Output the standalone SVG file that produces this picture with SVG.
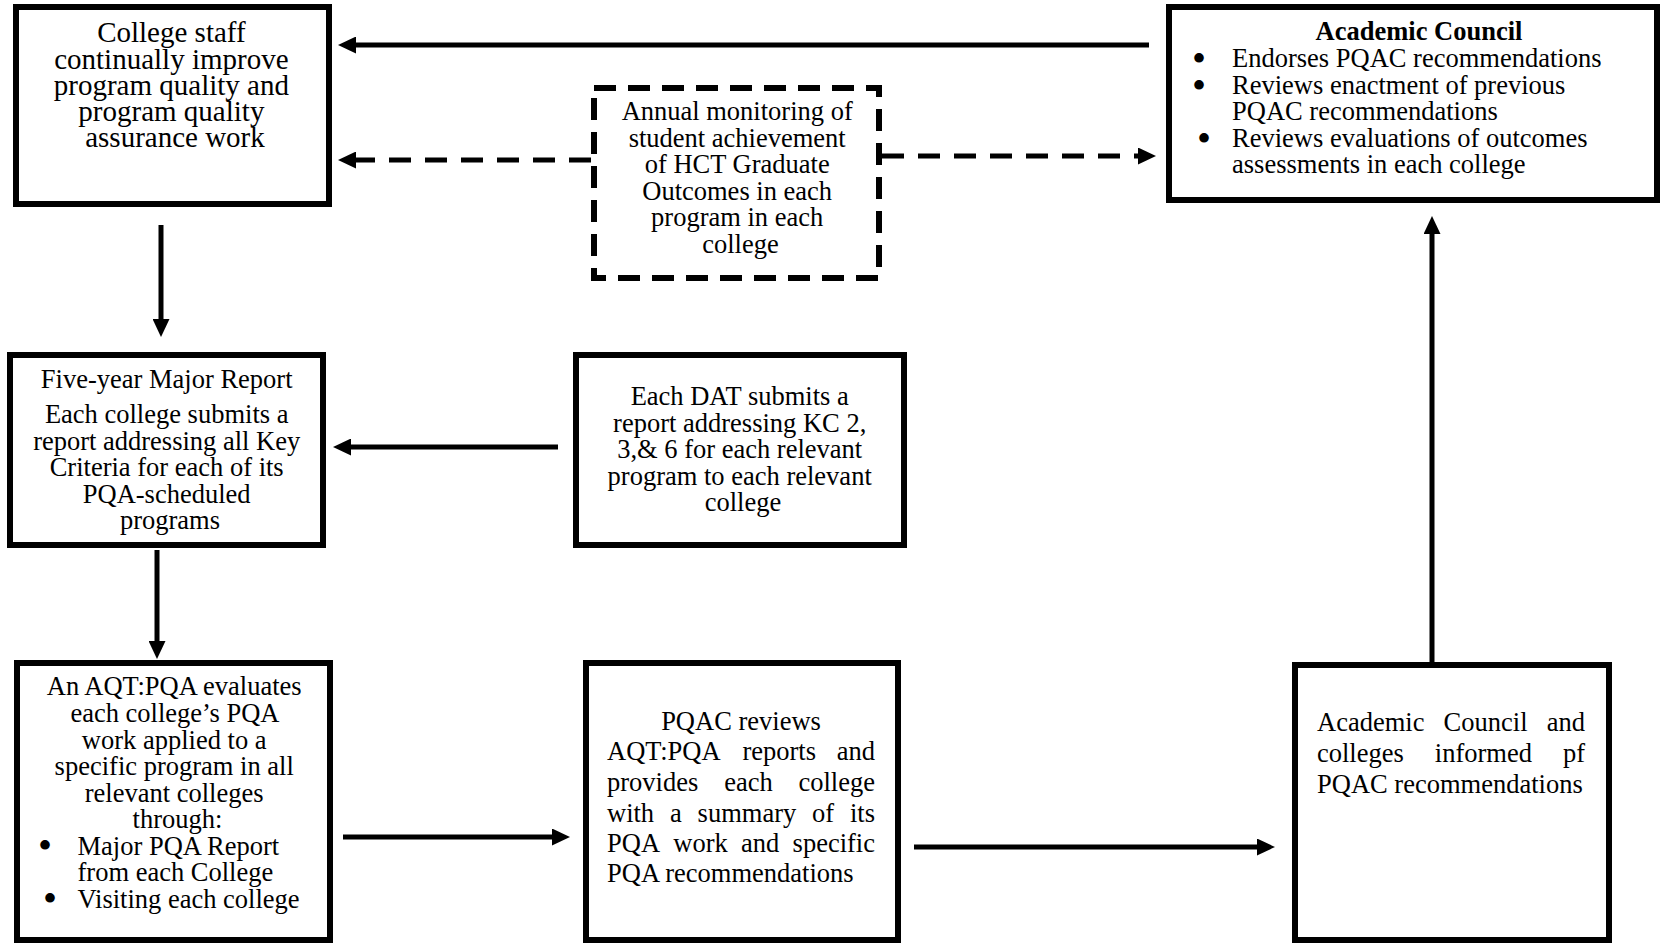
<svg xmlns="http://www.w3.org/2000/svg" width="1663" height="944" viewBox="0 0 1663 944">
  <style>
    .box { fill: #ffffff; stroke: #000000; stroke-width: 6; }
    .dbox { fill: #ffffff; stroke: #000000; stroke-width: 6; stroke-dasharray: 22 12; }
    .t { font-family: "Liberation Serif", "Times New Roman", serif; font-size: 26.5px; fill: #000000; }
    .big { font-size: 29px; }
    .c { text-anchor: middle; }
    .b { font-weight: bold; }
    .bul { font-size: 40px; }
    .line { fill: none; stroke: #000000; stroke-width: 5; marker-end: url(#head); }
    .dash { stroke-dasharray: 22 14; }
  </style>
  <defs>
    <marker id="head" markerUnits="userSpaceOnUse" markerWidth="19" markerHeight="17" refX="1" refY="8.5" orient="auto">
      <path d="M0,0 L18,8.5 L0,17 Z" fill="#000000"/>
    </marker>
  </defs>
  <rect width="1663" height="944" fill="#ffffff"/>

  <!-- connectors -->
  <g id="connectors">
    <line class="line" x1="1149" y1="45" x2="355" y2="45"/>
    <line class="line dash" x1="591" y1="160" x2="355" y2="160"/>
    <line class="line dash" x1="882" y1="156" x2="1139" y2="156"/>
    <line class="line" x1="161" y1="225" x2="161" y2="320"/>
    <line class="line" x1="558" y1="447" x2="350" y2="447"/>
    <line class="line" x1="157" y1="550" x2="157" y2="642"/>
    <line class="line" x1="343" y1="837" x2="553" y2="837"/>
    <line class="line" x1="914" y1="847" x2="1258" y2="847"/>
    <line class="line" x1="1432" y1="662" x2="1432" y2="233"/>
  </g>

  <!-- college staff -->
  <g id="college-staff">
    <rect class="box" x="16" y="7" width="313" height="197"/>
    <text class="t big c" x="175">
      <tspan x="175" y="42">College staff</tspan>
      <tspan x="175" y="68.5">continually improve</tspan>
      <tspan x="175" y="95">program quality and</tspan>
      <tspan x="175" y="121">program quality</tspan>
      <tspan x="175" y="147">assurance work</tspan>
    </text>
  </g>

  <!-- annual monitoring (dashed) -->
  <g id="annual-monitoring">
    <rect class="dbox" x="594" y="88" width="285" height="190"/>
    <text class="t c" x="740.5">
      <tspan x="740.5" y="120">Annual monitoring of</tspan>
      <tspan x="740.5" y="147">student achievement</tspan>
      <tspan x="740.5" y="173">of HCT Graduate</tspan>
      <tspan x="740.5" y="200">Outcomes in each</tspan>
      <tspan x="740.5" y="226">program in each</tspan>
      <tspan x="740.5" y="253">college</tspan>
    </text>
  </g>

  <!-- academic council -->
  <g id="academic-council">
    <rect class="box" x="1169" y="7" width="488" height="193"/>
    <text class="t b c" x="1419" y="40">Academic Council</text>
    <text class="t bul c">
      <tspan x="1204" y="72">•</tspan>
      <tspan x="1204" y="98.5">•</tspan>
      <tspan x="1204" y="151.5">•</tspan>
    </text>
    <text class="t">
      <tspan x="1232" y="67">Endorses PQAC recommendations</tspan>
      <tspan x="1232" y="93.5">Reviews enactment of previous</tspan>
      <tspan x="1232" y="120">PQAC recommendations</tspan>
      <tspan x="1232" y="146.5">Reviews evaluations of outcomes</tspan>
      <tspan x="1232" y="173">assessments in each college</tspan>
    </text>
  </g>

  <!-- five-year major report -->
  <g id="five-year-report">
    <rect class="box" x="10" y="355" width="313" height="190"/>
    <text class="t c" x="170">
      <tspan x="170" y="388">Five-year Major Report</tspan>
      <tspan x="170" y="423">Each college submits a</tspan>
      <tspan x="170" y="450">report addressing all Key</tspan>
      <tspan x="170" y="476">Criteria for each of its</tspan>
      <tspan x="170" y="503">PQA-scheduled</tspan>
      <tspan x="170" y="529">programs</tspan>
    </text>
  </g>

  <!-- DAT report -->
  <g id="dat-report">
    <rect class="box" x="576" y="355" width="328" height="190"/>
    <text class="t c" x="743">
      <tspan x="743" y="405">Each DAT submits a</tspan>
      <tspan x="743" y="432">report addressing KC 2,</tspan>
      <tspan x="743" y="458">3,&amp; 6 for each relevant</tspan>
      <tspan x="743" y="485">program to each relevant</tspan>
      <tspan x="743" y="511">college</tspan>
    </text>
  </g>

  <!-- AQT:PQA evaluation -->
  <g id="aqt-evaluation">
    <rect class="box" x="17" y="663" width="313" height="277"/>
    <text class="t c" x="177.5">
      <tspan x="177.5" y="695">An AQT:PQA evaluates</tspan>
      <tspan x="177.5" y="722">each college’s PQA</tspan>
      <tspan x="177.5" y="749">work applied to a</tspan>
      <tspan x="177.5" y="775">specific program in all</tspan>
      <tspan x="177.5" y="802">relevant colleges</tspan>
      <tspan x="177.5" y="828">through:</tspan>
    </text>
    <text class="t bul c">
      <tspan x="50" y="859">•</tspan>
      <tspan x="50" y="912">•</tspan>
    </text>
    <text class="t">
      <tspan x="77.5" y="855">Major PQA Report</tspan>
      <tspan x="77.5" y="881">from each College</tspan>
      <tspan x="77.5" y="908">Visiting each college</tspan>
    </text>
  </g>

  <!-- PQAC review -->
  <g id="pqac-review">
    <rect class="box" x="586" y="663" width="312" height="277"/>
    <text class="t c" x="741" y="730">PQAC reviews</text>
    <text class="t">
      <tspan x="607" y="760">AQT:PQA</tspan><tspan x="742.4" y="760">reports</tspan><tspan x="836.7" y="760">and</tspan>
      <tspan x="607" y="791">provides</tspan><tspan x="724.2" y="791">each</tspan><tspan x="798.5" y="791">college</tspan>
      <tspan x="607" y="822">with</tspan><tspan x="670" y="822">a</tspan><tspan x="697.6" y="822">summary</tspan><tspan x="812" y="822">of</tspan><tspan x="850" y="822">its</tspan>
      <tspan x="607" y="852">PQA</tspan><tspan x="673.3" y="852">work</tspan><tspan x="741.1" y="852">and</tspan><tspan x="792.6" y="852">specific</tspan>
      <tspan x="607" y="882">PQA recommendations</tspan>
    </text>
  </g>

  <!-- council and colleges informed -->
  <g id="council-informed">
    <rect class="box" x="1295" y="665" width="314" height="275"/>
    <text class="t">
      <tspan x="1317" y="731">Academic</tspan><tspan x="1443.6" y="731">Council</tspan><tspan x="1546.7" y="731">and</tspan>
      <tspan x="1317" y="762">colleges</tspan><tspan x="1434.8" y="762">informed</tspan><tspan x="1562.9" y="762">pf</tspan>
      <tspan x="1317" y="793">PQAC recommendations</tspan>
    </text>
  </g>
</svg>
